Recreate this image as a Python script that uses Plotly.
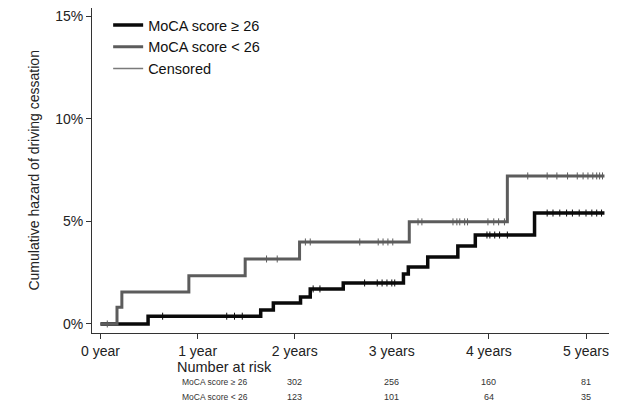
import numpy as np
import plotly.graph_objects as go

# ---- data ----
black_times = [0, 0.49, 1.65, 1.78, 2.06, 2.16, 2.50, 3.12, 3.17, 3.37, 3.68, 3.86, 4.47, 5.19]
black_hazard = [0, 0.38, 0.68, 1.02, 1.32, 1.71, 2.00, 2.44, 2.78, 3.27, 3.80, 4.34, 5.41, 5.41]
gray_times = [0, 0.17, 0.22, 0.91, 1.49, 2.05, 3.18, 4.19, 5.19]
gray_hazard = [0, 0.81, 1.56, 2.35, 3.17, 4.00, 4.98, 7.22, 7.22]

black_censor = [0.64, 1.30, 1.38, 1.46, 2.19, 2.26, 2.72, 2.85, 2.90, 2.95, 3.00, 3.03,
                3.98, 4.01, 4.06, 4.11, 4.19, 4.60, 4.66, 4.73, 4.80, 4.86, 4.93,
                5.00, 5.06, 5.11, 5.16]
gray_censor = [0.07, 1.71, 1.82, 2.11, 2.16, 2.67, 2.86, 2.91, 2.96, 3.01, 3.27, 3.31,
               3.63, 3.67, 3.70, 3.75, 3.78, 3.99, 4.05, 4.10, 4.16, 4.40, 4.60, 4.70,
               4.81, 4.91, 4.97, 5.02, 5.07, 5.11, 5.14, 5.17]

x_tick_vals = [0, 1, 2, 3, 4, 5]
x_tick_text = ["0 year", "1 year", "2 years", "3 years", "4 years", "5 years"]
y_tick_vals = [0, 5, 10, 15]
y_tick_text = ["0%", "5%", "10%", "15%"]

risk_positions = [2, 3, 4, 5]
risk_high = [302, 256, 160, 81]
risk_low = [123, 101, 64, 35]

label_high = "MoCA score \u2265 26"
label_low = "MoCA score < 26"

FONT = "Liberation Sans, Arial, Helvetica, sans-serif"
BLACK = "#0a0a0a"
GRAY = "#5c5c5c"


def level_at(times, hazard, ts):
    idx = np.searchsorted(np.array(times), np.array(ts), side="right") - 1
    return [hazard[i] for i in idx]


fig = go.Figure()

fig.add_trace(go.Scatter(x=black_times, y=black_hazard, mode="lines",
                         line=dict(color=BLACK, width=3.5, shape="hv"),
                         name=label_high, legendrank=1))
fig.add_trace(go.Scatter(x=black_censor, y=level_at(black_times, black_hazard, black_censor),
                         mode="markers", showlegend=False, hoverinfo="skip",
                         marker=dict(symbol="line-ns-open", size=5, color=BLACK,
                                     line=dict(color=BLACK, width=1))))
fig.add_trace(go.Scatter(x=gray_times, y=gray_hazard, mode="lines",
                         line=dict(color=GRAY, width=3, shape="hv"),
                         name=label_low, legendrank=2))
fig.add_trace(go.Scatter(x=gray_censor, y=level_at(gray_times, gray_hazard, gray_censor),
                         mode="markers", showlegend=False, hoverinfo="skip",
                         marker=dict(symbol="line-ns-open", size=5, color=GRAY,
                                     line=dict(color=GRAY, width=1))))
fig.add_trace(go.Scatter(x=[None], y=[None], mode="lines",
                         line=dict(color="#7a7a7a", width=1.5),
                         name="Censored", legendrank=3))

axis_common = dict(showline=True, linecolor="#333", linewidth=1, ticks="outside",
                   ticklen=5, tickcolor="#333", tickwidth=1, showgrid=False,
                   zeroline=False, tickfont=dict(family=FONT, size=14, color="#222"))

fig.update_xaxes(range=[-0.0875, 5.278], tickvals=x_tick_vals, ticktext=x_tick_text,
                 **axis_common)
fig.update_yaxes(range=[-0.44, 15.41], tickvals=y_tick_vals, ticktext=y_tick_text,
                 **axis_common)

annotations = [
    dict(text="Cumulative hazard of driving cessation", xref="paper", yref="paper",
         x=-0.1132, y=0.5, textangle=-90, showarrow=False, xanchor="center",
         yanchor="middle", font=dict(family=FONT, size=14, color="#222")),
    dict(text="Number at risk", xref="paper", yref="paper", x=0.159, y=-0.1046,
         xanchor="left", yanchor="middle", showarrow=False,
         font=dict(family=FONT, size=14.5, color="#222")),
    dict(text=label_high, xref="paper", yref="paper", x=0.169, y=-0.1508,
         xanchor="left", yanchor="middle", showarrow=False,
         font=dict(family=FONT, size=8.5, color="#333")),
    dict(text=label_low, xref="paper", yref="paper", x=0.169, y=-0.197,
         xanchor="left", yanchor="middle", showarrow=False,
         font=dict(family=FONT, size=8.5, color="#333")),
]
for pos, hi, lo in zip(risk_positions, risk_high, risk_low):
    annotations.append(dict(text=str(hi), xref="x", yref="paper", x=pos, y=-0.1508,
                            xanchor="center", yanchor="middle", showarrow=False,
                            font=dict(family=FONT, size=9, color="#333")))
    annotations.append(dict(text=str(lo), xref="x", yref="paper", x=pos, y=-0.197,
                            xanchor="center", yanchor="middle", showarrow=False,
                            font=dict(family=FONT, size=9, color="#333")))

# the page body has an 8px default margin: size the figure to fill the rest
fig.update_layout(
    width=609, height=397,
    margin=dict(l=84, r=4, t=0, b=72),
    paper_bgcolor="white", plot_bgcolor="white",
    font=dict(family=FONT, color="#222"),
    legend=dict(x=0.031, y=0.997, xanchor="left", yanchor="top",
                bgcolor="rgba(0,0,0,0)", font=dict(family=FONT, size=14.5, color="#111"),
                traceorder="normal"),
    annotations=annotations,
)

fig.write_html("out.html")
